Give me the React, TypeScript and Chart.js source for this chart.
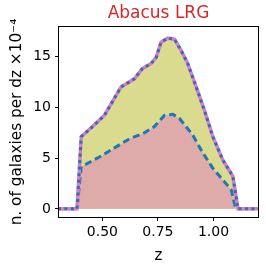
import React, { useEffect, useRef } from "react";
import { Chart, registerables } from "chart.js";

Chart.register(...registerables);

// Total (upper) curve
const totalZ = [0.3, 0.386, 0.405, 0.456, 0.509, 0.584, 0.644, 0.68, 0.719, 0.742, 0.764, 0.794, 0.824, 0.854, 0.884, 0.922, 0.959, 0.997, 1.042, 1.087, 1.11, 1.21];
const totalN = [0, 0, 7.1, 8.1, 9.2, 12.0, 12.8, 13.8, 14.3, 14.9, 16.4, 16.8, 16.7, 15.6, 14.3, 12.0, 9.7, 7.1, 4.8, 3.2, 0, 0];

// Lower curve
const lowerZ = [0.3, 0.386, 0.405, 0.486, 0.562, 0.622, 0.682, 0.734, 0.779, 0.817, 0.847, 0.907, 0.952, 0.997, 1.042, 1.08, 1.1, 1.21];
const lowerN = [0, 0, 4.15, 5.1, 6.1, 6.9, 7.4, 8.1, 9.2, 9.3, 8.9, 7.25, 5.5, 4.0, 2.85, 1.86, 0, 0];

const xTicks = [0.5, 0.75, 1.0];
const yTicks = [0, 5, 10, 15];
const titleText = "Abacus LRG";

const FONT = "'DejaVu Sans', sans-serif";

const frame = {
  id: "frame",
  afterDraw(chart: any) {
    const { ctx, chartArea } = chart;
    ctx.save();
    ctx.strokeStyle = "#000";
    ctx.lineWidth = 1;
    ctx.strokeRect(
      Math.round(chartArea.left) - 0.5,
      Math.round(chartArea.top) - 0.5,
      Math.round(chartArea.right - chartArea.left) + 1,
      Math.round(chartArea.bottom - chartArea.top) + 1
    );
    ctx.fillStyle = "#d62728";
    ctx.font = `17px ${FONT}`;
    ctx.textAlign = "center";
    ctx.textBaseline = "alphabetic";
    ctx.fillText(titleText, (chartArea.left + chartArea.right) / 2, 18);
    ctx.restore();
  },
};

export default function App() {
  const ref = useRef<HTMLCanvasElement>(null);
  useEffect(() => {
    const total = totalZ.map((x, i) => ({ x, y: totalN[i] }));
    const lower = lowerZ.map((x, i) => ({ x, y: lowerN[i] }));
    const chart = new Chart(ref.current!, {
      type: "line",
      data: {
        datasets: [
          { data: total, borderColor: "#1f77b4", borderWidth: 3, borderDash: [3, 3.5], pointRadius: 0, fill: false, order: 0 },
          { data: total, borderColor: "#e377c2", borderWidth: 3.5, pointRadius: 0, fill: false, order: 1 },
          { data: lower, borderColor: "#1f77b4", borderWidth: 3, borderDash: [7, 4], pointRadius: 0, fill: false, order: 2 },
          { data: lower, borderWidth: 0, borderColor: "rgba(0,0,0,0)", backgroundColor: "#dfaaaa", pointRadius: 0, fill: "origin", order: 3 },
          { data: total, borderWidth: 0, borderColor: "rgba(0,0,0,0)", backgroundColor: "#dbdb8f", pointRadius: 0, fill: "origin", order: 4 },
        ],
      },
      options: {
        animation: false,
        responsive: false,
        maintainAspectRatio: false,
        layout: { padding: { left: 0, right: 8, top: 27, bottom: 0 } },
        plugins: {
          legend: { display: false },
          tooltip: { enabled: false },
          title: { display: false },
        },
        scales: {
          x: {
            type: "linear",
            min: 0.305,
            max: 1.2,
            afterFit: (s: any) => { s.height = 49; },
            afterBuildTicks: (s: any) => { s.ticks = xTicks.map((v) => ({ value: v })); },
            border: { display: false },
            grid: { drawOnChartArea: false, drawTicks: true, tickLength: 4, color: "#000" },
            ticks: {
              color: "#000",
              padding: 3,
              maxRotation: 0,
              font: { family: FONT, size: 14 },
              callback: (v: any) => Number(v).toFixed(2),
            },
            title: { display: true, text: "z", color: "#000", font: { family: FONT, size: 15 }, padding: { top: 0, bottom: 1 } },
          },
          y: {
            type: "linear",
            min: -0.8,
            max: 17.9,
            afterFit: (s: any) => { s.width = 59; },
            afterBuildTicks: (s: any) => { s.ticks = yTicks.map((v) => ({ value: v })); },
            border: { display: false },
            grid: { drawOnChartArea: false, drawTicks: true, tickLength: 4, color: "#000" },
            ticks: { color: "#000", padding: 4, font: { family: FONT, size: 14 } },
            title: {
              display: true,
              text: "n. of galaxies per dz ×10⁻⁴",
              color: "#000",
              font: { family: FONT, size: 15.3 },
              padding: { top: 8, bottom: 0 },
            },
          },
        },
      },
      plugins: [frame],
    });
    return () => chart.destroy();
  }, []);
  return (
    <div style={{ position: "fixed", left: 0, top: 0, width: 266, height: 266, background: "#fff" }}>
      <canvas ref={ref} width={266} height={266} style={{ width: 266, height: 266 }} />
    </div>
  );
}
